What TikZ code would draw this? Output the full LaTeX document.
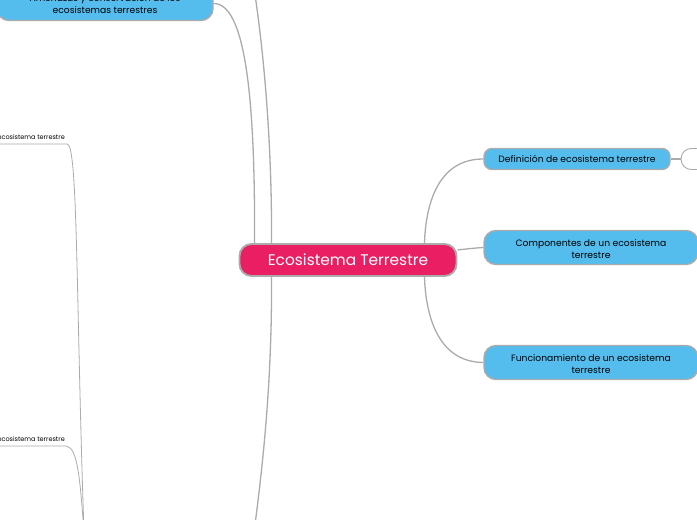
\documentclass[tikz,border=0pt]{standalone}
\usepackage{fontspec}
\setmainfont{Poppins}
\usetikzlibrary{positioning, backgrounds, calc}

\definecolor{rootpink}{HTML}{E91E63}
\definecolor{topicblue}{HTML}{55BDEE}
\definecolor{linegray}{HTML}{ABABAB}

\begin{document}
\begin{tikzpicture}[
    x=1pt, y=-1pt,
    root/.style={draw=linegray, line width=1.9pt, fill=rootpink, text=white, rounded corners=12pt, minimum width=217pt, minimum height=32pt, inner sep=0pt, text height=13pt, text depth=3pt, font=\fontsize{15.4}{18}\selectfont},
    topic/.style={draw=linegray, line width=1.4pt, fill=topicblue, text=black, minimum width=#1, align=center, inner sep=0pt, font=\fontsize{9.2}{12}\selectfont},
    topic/.default=214pt,
    twoline/.style={minimum height=34pt, rounded corners=12pt},
    oneline/.style={minimum height=21pt, rounded corners=8pt},
    blank/.style={draw=linegray, line width=0.9pt, fill=white, rounded corners=10pt, minimum width=32pt, minimum height=21pt, inner sep=0pt},
    leaf/.style={anchor=south east, inner xsep=0pt, inner ysep=4.5pt, text=black, font=\fontsize{6.5}{8}\selectfont},
    conn/.style={draw=linegray, line width=1.3pt},
    thin conn/.style={draw=linegray, line width=0.8pt}
]
    \useasboundingbox (0,0) rectangle (697,520);
    \clip (0,0) rectangle (697,520);

    % Central topic
    \node[root] (eco) at (348,260) {Ecosistema Terrestre};

    % Right side
    \node[topic=186pt, oneline] (defi) at (577,159) {Definición de ecosistema terrestre};
    \node[topic, twoline] (comp) at (591,247.5) {\rule{0pt}{11pt}Componentes de un ecosistema\\terrestre};
    \node[topic, twoline] (func) at (591,362.5) {\rule{0pt}{11pt}Funcionamiento de un ecosistema\\terrestre};
    \node[blank, right=10pt of defi] (empty) {};

    % Left side
    \node[topic=216pt, twoline] (amen) at (105,3.5) {Amenazas y conservación de los\\ecosistemas terrestres};
    \node[leaf] (leafa) at (65,144) {ecosistema terrestre};
    \node[leaf] (leafb) at (65,446) {ecosistema terrestre};

    % Free ends past the page edge
    \coordinate (upend) at (254,-12);
    \coordinate (downend) at (254,532);
    \coordinate (leafend) at (84,532);

    % Branches of the central topic
    \draw[conn] (eco.north east) ++(-33,0) .. controls (426,200) and (440,159) .. (defi.west);
    \draw[conn] (eco.east) ++(0,-10) .. controls (466,249) and (475,248) .. (comp.west);
    \draw[conn] (eco.south east) ++(-33,0) .. controls (426,320) and (440,362) .. (func.west);
    \draw[conn] (eco.north west) ++(16,0) .. controls (255,130) and (250,3) .. (amen.east);
    \draw[conn] (eco.north west) ++(33,0) .. controls (272,150) and (265,60) .. (upend);
    \draw[conn] (eco.south west) ++(33,0) .. controls (272,370) and (265,450) .. (downend);
    \draw[conn] (defi.east) -- (empty.west);

    % Leaves
    \draw[thin conn] (leafa.south west) -- ++(70,0) .. controls (78,146) and (76,300) .. (leafend);
    \draw[thin conn] (leafb.south west) -- ++(69,0) .. controls (78,448) and (80,480) .. (leafend);

\end{tikzpicture}
\end{document}
